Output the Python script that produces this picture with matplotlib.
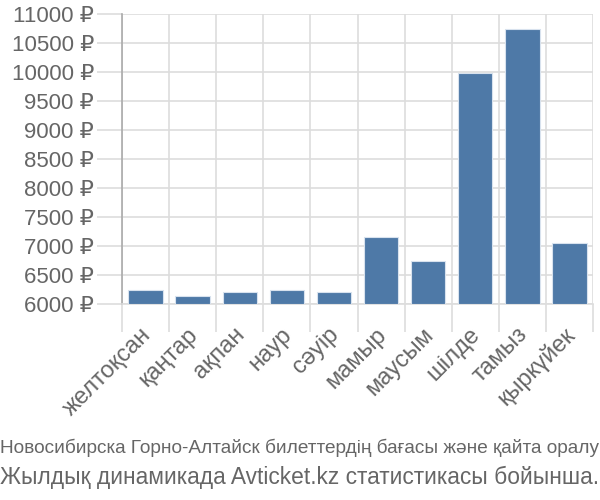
import matplotlib
matplotlib.use("Agg")
import matplotlib.pyplot as plt
import matplotlib.transforms as mtrans
import numpy as np

months = ["желтоқсан", "қаңтар", "ақпан", "наур", "сәуір", "мамыр",
          "маусым", "шілде", "тамыз", "қыркүйек"]
prices = [6240, 6140, 6205, 6240, 6212, 7150, 6745, 9990, 10735, 7045]
yticks = list(range(6000, 11001, 500))
line1 = "Новосибирска Горно-Алтайск билеттердің бағасы және қайта оралу"
line2 = "Жылдық динамикада Avticket.kz статистикасы бойынша."

plt.rcParams['font.family'] = ['Liberation Sans', 'DejaVu Sans']
txt = '#666666'
grid = '#dddddd'

fig = plt.figure(figsize=(6, 5), dpi=100)
ax = fig.add_axes([122/600, 1-304/500, (593-122)/600, (304-14)/500])

x = np.arange(len(months))
ax.bar(x, [p - 6000 for p in prices], bottom=6000, width=0.73,
       color='#4e79a7', edgecolor='#d8e2ee', linewidth=0.8, zorder=3)

ax.set_xlim(-0.5, len(months) - 0.5)
ax.set_ylim(6000, 11000)
ax.set_yticks(yticks)
ax.set_yticklabels([f"{v} ₽" for v in yticks], fontsize=16, color=txt)
ax.yaxis.grid(True, color=grid, linewidth=1.2, zorder=0)

bounds = np.arange(len(months) + 1) - 0.5
ax.set_xticks(bounds, minor=False)
ax.set_xticklabels([])
ax.xaxis.grid(True, color=grid, linewidth=1.2, zorder=0)
ax.tick_params(axis='x', which='major', length=20, color=grid, width=1.2)
ax.set_xticks(x, minor=True)
ax.set_xticklabels(months, minor=True, rotation=45, ha='right',
                   rotation_mode='anchor', fontsize=17, color=txt)
ax.tick_params(axis='x', which='minor', length=0, pad=14)
offset = mtrans.ScaledTranslation(-6/100, 0, fig.dpi_scale_trans)
for lab in ax.xaxis.get_minorticklabels():
    lab.set_transform(lab.get_transform() + offset)
ax.tick_params(axis='y', length=18, color=grid, width=1.2, pad=2)

for s in ['top', 'right']:
    ax.spines[s].set_visible(False)
ax.spines['left'].set_color('#aaaaaa')
ax.spines['left'].set_linewidth(1.2)
ax.spines['bottom'].set_color(grid)
ax.spines['bottom'].set_linewidth(1.2)

t1 = fig.text(0.0, 1-448/500, line1, fontsize=16, color=txt, ha='left', va='center')
t2 = fig.text(0.0, 1-477/500, line2, fontsize=16, color=txt, ha='left', va='center')
fig.canvas.draw()
r = fig.canvas.get_renderer()
for t in (t1, t2):
    w = t.get_window_extent(r).width
    t.set_fontsize(16 * 598 / w)

fig.savefig("out.png", dpi=100)
